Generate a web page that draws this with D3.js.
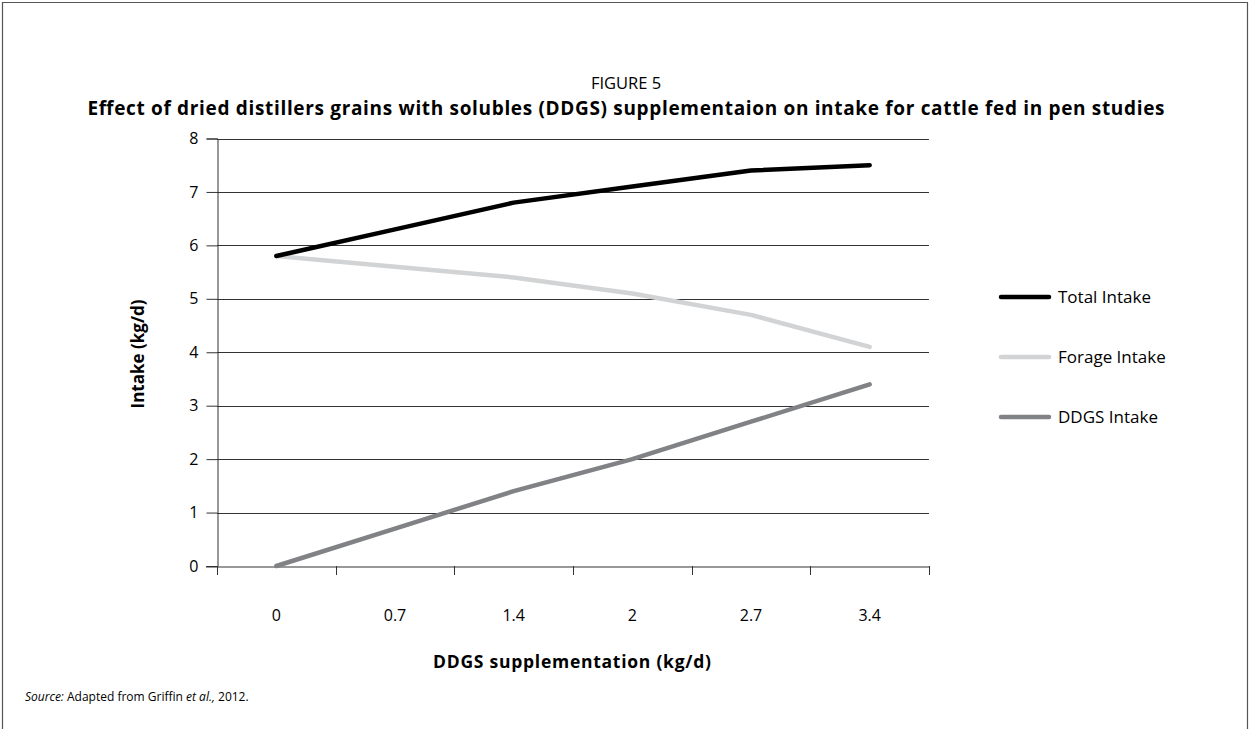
<!DOCTYPE html>
<html><head><meta charset="utf-8">
<script src="https://cdn.jsdelivr.net/npm/d3@7"></script>
<style>body{margin:0;background:#fff}svg{display:block}text{font-family:"Open Sans","DejaVu Sans",sans-serif;fill:#000}</style>
</head><body>
<svg id="c" width="1252" height="729"></svg>
<script>
const categories = ["0","0.7","1.4","2","2.7","3.4"];
const totalIntake = [5.8, 6.3, 6.8, 7.1, 7.4, 7.5];
const forageIntake = [5.8, 5.6, 5.4, 5.1, 4.7, 4.1];
const ddgsIntake = [0, 0.7, 1.4, 2.0, 2.7, 3.4];
const yTicks = [0,1,2,3,4,5,6,7,8];
const seriesNames = ["Total Intake","Forage Intake","DDGS Intake"];
const seriesColors = ["#000000","#d1d3d4","#808285"];

const svg = d3.select("#c");
// frame
svg.append("path").attr("d","M2.5,729 V2.5 H1247.5 V729").attr("fill","none").attr("stroke","#555").attr("stroke-width",1.2);

const L=217, R=929, T=138.5, B=566;
const x = d3.scaleBand().domain(categories).range([L,R]);
const y = d3.scaleLinear().domain([0,8]).range([B,T]);

// gridlines
svg.append("g").selectAll("line").data(yTicks.filter(d=>d>0)).join("line")
  .attr("x1",L).attr("x2",R).attr("y1",d=>Math.round(y(d))+0.5).attr("y2",d=>Math.round(y(d))+0.5)
  .attr("stroke","#333").attr("stroke-width",1);

// y axis
const ya = svg.append("g").attr("transform",`translate(${L+0.5},0)`)
  .call(d3.axisLeft(y).tickValues(yTicks).tickSize(11).tickPadding(8).tickFormat(d3.format("d")));
ya.select(".domain").attr("stroke","#333");
ya.selectAll(".tick line").attr("stroke","#333");
ya.selectAll("text").attr("font-size",16).attr("font-family",'"Open Sans",sans-serif');

// x axis
const xa = svg.append("g").attr("transform",`translate(0,${B+0.5})`)
  .call(d3.axisBottom(x).tickSize(0).tickPadding(43));
xa.select(".domain").attr("stroke","#333").attr("d",`M${L-11},0.5H${R}`);
xa.selectAll(".tick line").remove();
xa.selectAll("text").attr("font-size",16).attr("font-family",'"Open Sans",sans-serif');
// x tick marks at band boundaries
const bounds = categories.map(c=>x(c)).concat([x(categories[categories.length-1])+x.bandwidth()]);
svg.append("g").selectAll("line").data(bounds).join("line")
  .attr("x1",d=>Math.round(d)+0.5).attr("x2",d=>Math.round(d)+0.5).attr("y1",B).attr("y2",B+9)
  .attr("stroke","#333");

// lines
const data = [totalIntake, forageIntake, ddgsIntake];
const line = d3.line().x((d,i)=>x(categories[i])+x.bandwidth()/2).y(d=>y(d));
[1,2,0].forEach(k=>{
  svg.append("path").datum(data[k]).attr("d",line).attr("fill","none")
    .attr("stroke",seriesColors[k]).attr("stroke-width",4.5).attr("stroke-linecap","round").attr("stroke-linejoin","round");
});

// legend
const lg = svg.append("g");
seriesNames.forEach((n,i)=>{
  const yy = 297 + i*60;
  lg.append("line").attr("x1",1001).attr("x2",1049).attr("y1",yy).attr("y2",yy)
    .attr("stroke",seriesColors[i]).attr("stroke-width",4.5).attr("stroke-linecap","round");
  lg.append("text").attr("x",1058).attr("y",yy+6).attr("font-size",17).text(n);
});

// titles
svg.append("text").attr("x",626).attr("y",89).attr("text-anchor","middle").attr("font-size",16.5).text("FIGURE 5");
svg.append("text").attr("x",626).attr("y",115).attr("text-anchor","middle").attr("font-size",19).attr("font-weight","bold")
  .attr("textLength",1077).attr("lengthAdjust","spacing")
  .text("Effect of dried distillers grains with solubles (DDGS) supplementaion on intake for cattle fed in pen studies");
svg.append("text").attr("x",572).attr("y",668).attr("text-anchor","middle").attr("font-size",17.5).attr("font-weight","bold")
  .attr("textLength",278).attr("lengthAdjust","spacing")
  .text("DDGS supplementation (kg/d)");
svg.append("text").attr("transform","translate(144,354) rotate(-90)").attr("text-anchor","middle").attr("font-size",17).attr("font-weight","bold")
  .text("Intake (kg/d)");

// source
const s = svg.append("text").attr("x",25).attr("y",701).attr("font-size",12);
s.append("tspan").attr("font-style","italic").text("Source:");
s.append("tspan").text(" Adapted from Griffin ");
s.append("tspan").attr("font-style","italic").text("et al.,");
s.append("tspan").text(" 2012.");
</script>
</body></html>
